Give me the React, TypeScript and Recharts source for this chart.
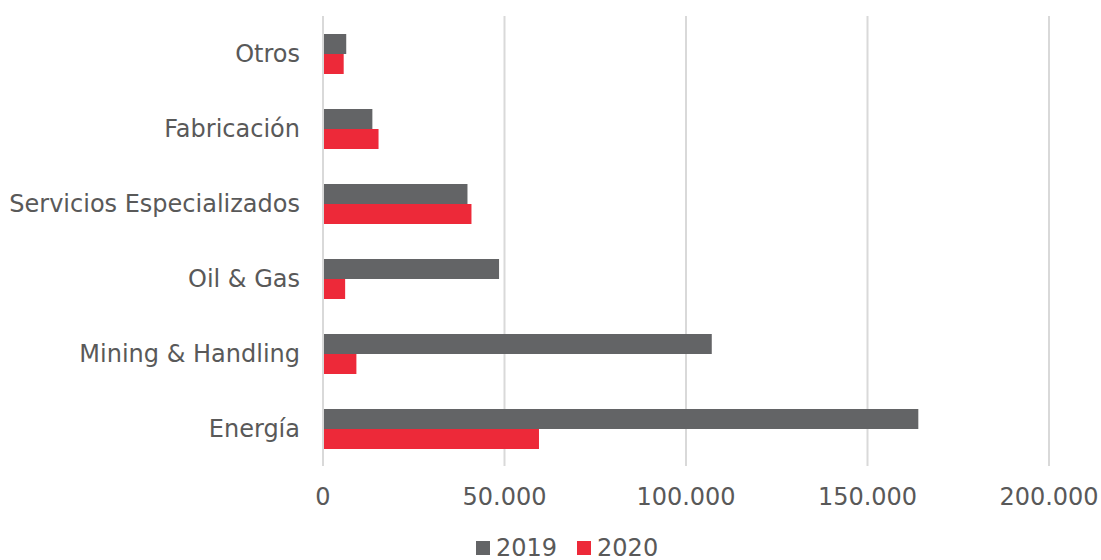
import { BarChart, Bar, XAxis, YAxis, CartesianGrid, Legend } from "recharts";

const categories = [
  "Otros",
  "Fabricación",
  "Servicios Especializados",
  "Oil & Gas",
  "Mining & Handling",
  "Energía",
];
const values2019 = [6400, 13600, 39800, 48500, 107100, 164000];
const values2020 = [5700, 15300, 40900, 6100, 9200, 59500];
const xTicks = [0, 50000, 100000, 150000, 200000];

const GRAY = "#636466";
const RED = "#ED2939";
const TEXT = "#595959";
const FONT = "DejaVu Sans, Verdana, sans-serif";

const data = categories.map((name, i) => ({
  name,
  y2019: values2019[i],
  y2020: values2020[i],
}));

const fmt = (v: number) => String(v).replace(/\B(?=(\d{3})+(?!\d))/g, ".");

function LegendContent() {
  const items = [
    { label: "2019", color: GRAY },
    { label: "2020", color: RED },
  ];
  return (
    <div style={{ display: "flex", fontFamily: FONT, fontSize: 24, lineHeight: "22px", color: TEXT }}>
      {items.map((it) => (
        <div key={it.label} style={{ display: "flex", alignItems: "center", marginRight: 20 }}>
          <span style={{ width: 14, height: 14, background: it.color, display: "inline-block", marginRight: 6 }} />
          <span>{it.label}</span>
        </div>
      ))}
    </div>
  );
}

export default function App() {
  return (
    <div style={{ position: "absolute", left: 0, top: 0, width: 1101, height: 560, background: "#fff" }}>
      <BarChart
        width={1101}
        height={560}
        data={data}
        layout="vertical"
        margin={{ top: 16, right: 52, bottom: 22, left: 0 }}
        barCategoryGap="24%"
        barGap={0}
      >
        <CartesianGrid horizontal={false} stroke="#d9d9d9" strokeWidth={2} />
        <XAxis
          type="number"
          domain={[0, 200000]}
          ticks={xTicks}
          tickFormatter={fmt}
          axisLine={false}
          tickLine={false}
          tickSize={0}
          tickMargin={22}
          height={50}
          tick={{ fill: TEXT, fontSize: 24, fontFamily: FONT }}
        />
        <YAxis
          type="category"
          dataKey="name"
          width={323}
          axisLine={{ stroke: "#d9d9d9", strokeWidth: 2 }}
          tickLine={false}
          tickSize={0}
          tickMargin={23}
          interval={0}
          tick={{ fill: TEXT, fontSize: 24, fontFamily: FONT }}
        />
        <Legend
          verticalAlign="bottom"
          content={<LegendContent />}
          wrapperStyle={{ left: 476, top: 537, width: 220, height: 22 }}
        />
        <Bar dataKey="y2019" name="2019" fill={GRAY} isAnimationActive={false} />
        <Bar dataKey="y2020" name="2020" fill={RED} isAnimationActive={false} />
      </BarChart>
    </div>
  );
}
